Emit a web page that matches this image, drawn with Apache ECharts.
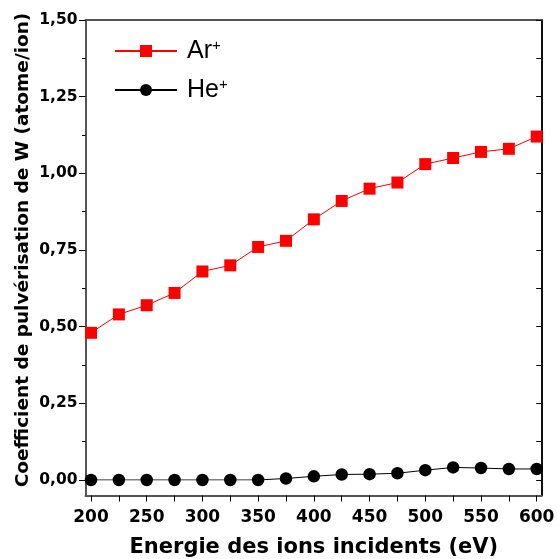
<!DOCTYPE html>
<html><head><meta charset="utf-8">
<script src="https://cdn.jsdelivr.net/npm/echarts@6/dist/echarts.min.js"></script>
<style>html,body{margin:0;padding:0;background:#fff}#c{width:557px;height:559px}</style>
</head><body><div id="c"></div>
<script>
const energies = [200, 225, 250, 275, 300, 325, 350, 375, 400, 425, 450, 475, 500, 525, 550, 575, 600];
const arValues = [0.48, 0.54, 0.57, 0.61, 0.68, 0.70, 0.76, 0.78, 0.85, 0.91, 0.95, 0.97, 1.03, 1.05, 1.07, 1.08, 1.12];
const heValues = [0.0, 0.0, 0.0, 0.0, 0.0, 0.0, 0.0, 0.005, 0.012, 0.018, 0.019, 0.022, 0.032, 0.041, 0.039, 0.036, 0.036];
const seriesNames = ['Ar+', 'He+'];
const xTitle = 'Energie des ions incidents (eV)';
const yTitle = 'Coefficient de pulvérisation de W (atome/ion)';

const bold = {fontFamily: 'DejaVu Sans', fontWeight: 'bold', color: '#000'};
const chart = echarts.init(document.getElementById('c'), null, {renderer: 'canvas'});
const frameAxis = (color) => ({
  axisLine: {show: true, onZero: false, lineStyle: {color: color, width: 2}},
  axisTick: {show: false}, axisLabel: {show: false}, splitLine: {show: false}
});
chart.setOption({
  animation: false,
  backgroundColor: '#fff',
  grid: [
    {left: 85.5, right: 15.5, top: 20, bottom: 63.5, outerBoundsMode: 'none', containLabel: false},
    {left: 91, right: 20.3, top: 20, bottom: 79, outerBoundsMode: 'none', containLabel: false}
  ],
  xAxis: [
    Object.assign({gridIndex: 0, type: 'value', min: 0, max: 1, position: 'bottom'}, frameAxis('#555')),
    Object.assign({gridIndex: 0, type: 'value', min: 0, max: 1, position: 'top'}, frameAxis('#555')),
    {
      gridIndex: 1, type: 'value', min: 200, max: 600, interval: 25, position: 'bottom', offset: 15.5,
      axisLine: {show: false, onZero: false},
      axisTick: {show: true, inside: false, length: 6, lineStyle: {color: '#000', width: 1}},
      axisLabel: Object.assign({fontSize: 17, margin: 14, formatter: v => (v % 50 === 0 ? String(v) : '')}, bold),
      splitLine: {show: false},
      name: xTitle, nameLocation: 'middle', nameGap: 42, nameMoveOverlap: false,
      nameTextStyle: Object.assign({fontSize: 21}, bold)
    }
  ],
  yAxis: [
    Object.assign({gridIndex: 0, type: 'value', min: 0, max: 1, position: 'left'}, frameAxis('#555')),
    Object.assign({gridIndex: 0, type: 'value', min: 0, max: 1, position: 'right'}, frameAxis('#111')),
    {
      gridIndex: 1, type: 'value', min: 0, max: 1.5, interval: 0.25, position: 'left', offset: 5.5,
      axisLine: {show: false, onZero: false},
      axisTick: {show: true, inside: false, length: 6.5, lineStyle: {color: '#000', width: 1}},
      minorTick: {show: true, splitNumber: 2, length: 3.5, lineStyle: {color: '#000', width: 1}},
      axisLabel: Object.assign({fontSize: 15.5, margin: 8, formatter: v => v.toFixed(2).replace('.', ',')}, bold),
      splitLine: {show: false},
      name: yTitle, nameLocation: 'middle', nameGap: 53, nameMoveOverlap: false,
      nameTextStyle: Object.assign({fontSize: 18.5}, bold)
    },
    {
      gridIndex: 1, type: 'value', min: 0, max: 1.5, interval: 0.125, position: 'right', offset: 5,
      axisLine: {show: false, onZero: false},
      axisTick: {show: true, inside: true, length: 5.5, lineStyle: {color: '#000', width: 1}},
      axisLabel: {show: false}, splitLine: {show: false}
    }
  ],
  legend: {
    orient: 'vertical', left: 109, top: 33, itemWidth: 62, itemHeight: 15, itemGap: 13,
    selectedMode: false,
    data: seriesNames,
    formatter: name => '{n|' + name.replace('+', '') + '}{s|+}',
    textStyle: {
      color: '#000', fontFamily: 'Liberation Sans', fontSize: 25, lineHeight: 26, padding: [0, 0, 0, 5],
      rich: {
        n: {fontFamily: 'Liberation Sans', fontSize: 25, lineHeight: 26, color: '#000'},
        s: {fontFamily: 'Liberation Sans', fontSize: 15, lineHeight: 6, verticalAlign: 'top', color: '#000'}
      }
    }
  },
  series: [
    {
      name: seriesNames[0], type: 'line', xAxisIndex: 2, yAxisIndex: 2,
      data: energies.map((e, i) => [e, arValues[i]]),
      symbol: 'rect', symbolSize: 12,
      lineStyle: {color: '#ff0000', width: 1}, itemStyle: {color: '#ff0000'}
    },
    {
      name: seriesNames[1], type: 'line', xAxisIndex: 2, yAxisIndex: 2,
      data: energies.map((e, i) => [e, heValues[i]]),
      symbol: 'circle', symbolSize: 12.5,
      lineStyle: {color: '#000', width: 1}, itemStyle: {color: '#000'}
    }
  ]
});
</script>
</body></html>
